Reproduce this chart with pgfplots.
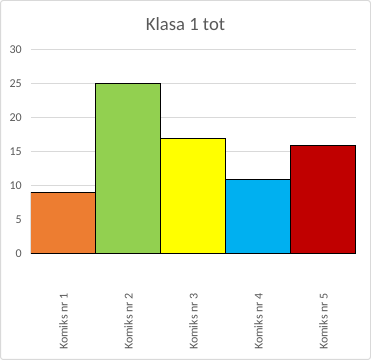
\documentclass[border=0pt]{standalone}
\usepackage{fontspec}
\setmainfont{Carlito}
\usepackage{pgfplots}
\pgfplotsset{compat=1.18}
\definecolor{txt}{HTML}{595959}
\definecolor{gridc}{HTML}{D9D9D9}
\definecolor{c1}{HTML}{ED7D31}
\definecolor{c2}{HTML}{92D050}
\definecolor{c3}{HTML}{FFFF00}
\definecolor{c4}{HTML}{00B0F0}
\definecolor{c5}{HTML}{C00000}
\begin{document}
\begin{tikzpicture}
\useasboundingbox (0,0) rectangle (278.25pt,270pt);
\draw[color=gridc, line width=0.75pt, rounded corners=2pt] (0.375pt,0.375pt) rectangle (277.875pt,269.625pt);
\node[text=txt, font=\fontsize{14}{16}\selectfont] at (139.125pt,252pt) {Klasa 1 tot};
\begin{axis}[
  at={(23.25pt,79.5pt)}, anchor=south west,
  scale only axis, width=243.75pt, height=153pt,
  xmin=-0.5, xmax=4.5, ymin=0, ymax=30,
  enlargelimits=false,
  ybar, bar width=1, bar shift=0pt,
  axis line style={draw=none},
  major tick length=0pt,
  ytick={0,5,10,15,20,25,30},
  xtick={0,1,2,3,4},
  xticklabels={Komiks nr 1,Komiks nr 2,Komiks nr 3,Komiks nr 4,Komiks nr 5},
  ymajorgrids, grid style={gridc, line width=0.75pt},
  /pgf/number format/assume math mode=true,
  tick label style={text=txt, font=\fontsize{9}{11}\selectfont},
  yticklabel style={anchor=east, inner sep=0pt},
  yticklabel shift=6.75pt,
  xticklabel style={rotate=90, anchor=east, inner sep=0pt},
  xticklabel shift=29.25pt,
  every axis plot/.append style={draw=black, line width=0.75pt},
]
\addplot[fill=c1] coordinates {(0,9)};
\addplot[fill=c2] coordinates {(1,25)};
\addplot[fill=c3] coordinates {(2,17)};
\addplot[fill=c4] coordinates {(3,11)};
\addplot[fill=c5] coordinates {(4,16)};
\end{axis}
\end{tikzpicture}
\end{document}
